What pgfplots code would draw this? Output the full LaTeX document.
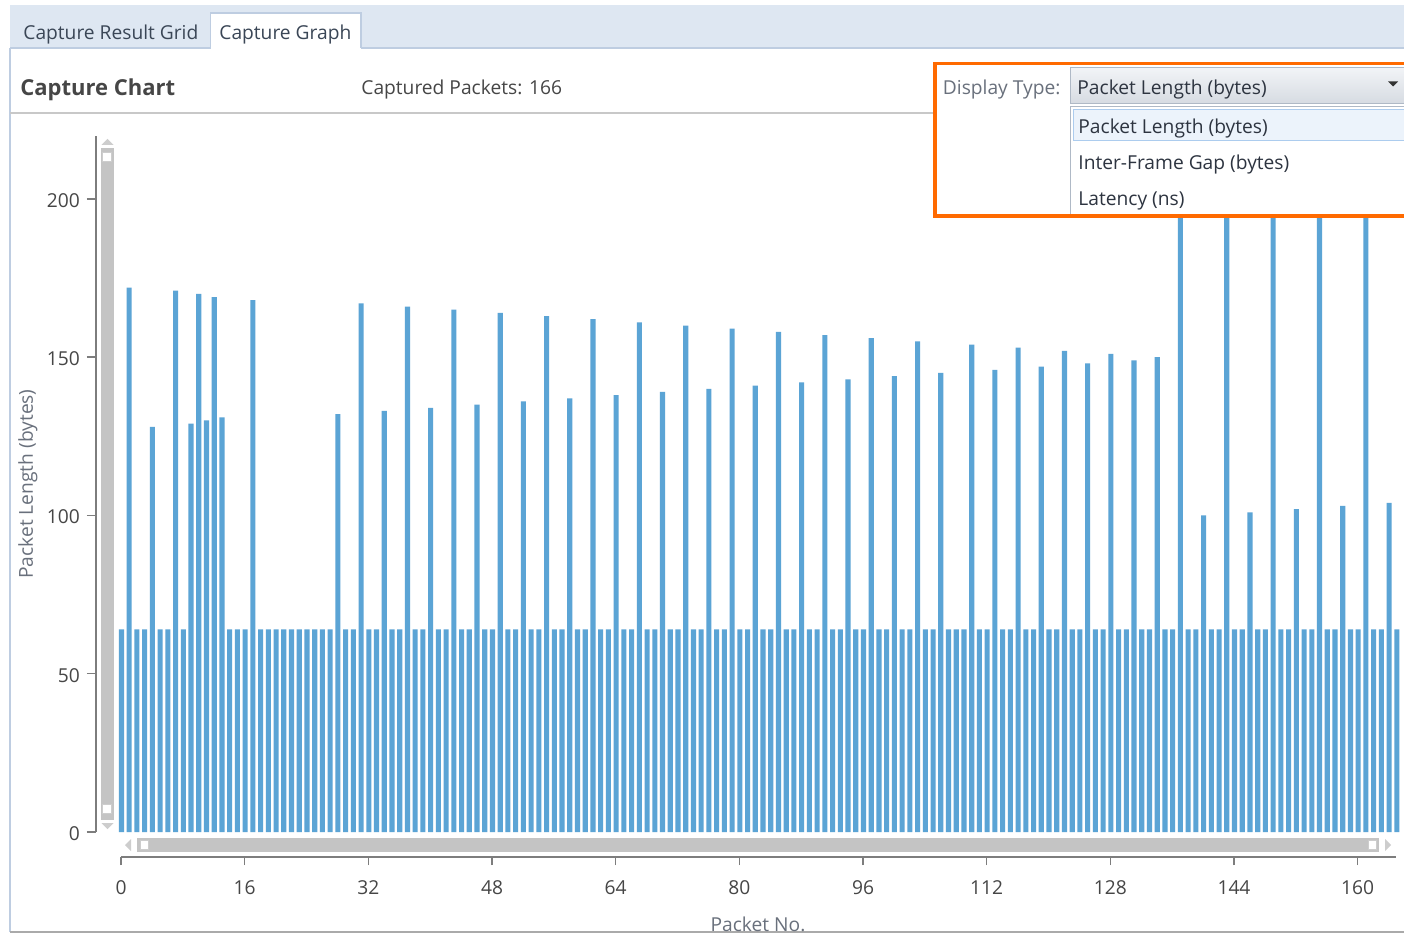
\documentclass[border=0pt]{standalone}
\usepackage{pgfplots}
\pgfplotsset{compat=1.18}
\usepackage{fontspec}
\setmainfont{Open Sans}
\newcommand{\fs}[1]{\fontsize{#1}{#1}\selectfont}
\definecolor{barblue}{RGB}{91,164,213}
\definecolor{tabbg}{RGB}{222,231,242}
\definecolor{panelborder}{RGB}{190,205,225}
\definecolor{tabtxt}{RGB}{58,70,86}
\definecolor{txt}{RGB}{70,70,70}
\definecolor{lbl}{RGB}{105,112,124}
\definecolor{axisgray}{RGB}{125,125,125}
\definecolor{scroll}{RGB}{196,196,196}
\definecolor{scrollarrow}{RGB}{205,205,205}
\definecolor{orangebox}{RGB}{255,106,0}
\definecolor{combotop}{RGB}{242,244,247}
\definecolor{combobot}{RGB}{214,219,226}
\definecolor{comboborder}{RGB}{175,185,198}
\definecolor{hilite}{RGB}{236,243,251}
\definecolor{hiliteb}{RGB}{172,204,238}
\definecolor{listtxt}{RGB}{45,52,64}
\definecolor{sepgray}{RGB}{200,200,200}
\definecolor{bottomgray}{RGB}{170,170,170}
\begin{document}
\begin{tikzpicture}
\useasboundingbox (0,0) rectangle (702pt,467pt);
\fill[white] (0,0) rectangle (702pt,467pt);
\begin{scope}[x=0.5pt,y=-0.5pt,shift={(0pt,467pt)}]
  \fill[tabbg] (10,5) rectangle (1404,48);
  \fill[white] (10,48) rectangle (1404,934);
  \draw[panelborder, line width=0.6pt] (10,48) -- (1404,48);
  \draw[panelborder, line width=0.6pt] (10,48) -- (10,932);
  \fill[white] (210.5,13) rectangle (361,49);
  \draw[panelborder, line width=0.6pt] (210.5,48.5) -- (210.5,13) -- (361,13) -- (361,48.5);
  \node[anchor=west, inner sep=0, text=tabtxt, font=\fs{9.6}] at (23,34.5) {Capture Result Grid};
  \node[anchor=west, inner sep=0, text=tabtxt, font=\fs{9.6}] at (219,34.5) {Capture Graph};
  \node[anchor=west, inner sep=0, text=txt, font=\fs{11}\bfseries] at (20,89.5) {Capture Chart};
  \node[anchor=west, inner sep=0, text=txt, font=\fs{9.6}] at (361,89.5) {Captured Packets: 166};
  \draw[sepgray, line width=0.6pt] (10,113) -- (935,113);
  \draw[bottomgray, line width=1pt] (10,932) -- (1404,932);
  % vertical scrollbar
  \fill[scroll] (101,148) rectangle (114,820);
  \filldraw[fill=white, draw=scrollarrow, line width=0.5pt] (102.5,153) rectangle (111.5,162);
  \filldraw[fill=white, draw=scrollarrow, line width=0.5pt] (102.5,804) rectangle (111.5,813);
  \fill[scrollarrow] (101.5,145) -- (113.5,145) -- (107.5,139) -- cycle;
  \fill[scrollarrow] (101.5,823) -- (113.5,823) -- (107.5,829) -- cycle;
  % horizontal scrollbar
  \fill[scroll] (137,838) rectangle (1379,852);
  \filldraw[fill=white, draw=scrollarrow, line width=0.5pt] (140,840.5) rectangle (148,849.5);
  \filldraw[fill=white, draw=scrollarrow, line width=0.5pt] (1368,840.5) rectangle (1376,849.5);
  \fill[scrollarrow] (131,839) -- (131,851) -- (125,845) -- cycle;
  \fill[scrollarrow] (1385,839) -- (1385,851) -- (1391,845) -- cycle;
  % axis labels
  \node[rotate=90, inner sep=0, text=lbl, font=\fs{9.6}] at (28,484) {Packet Length (bytes)};
  \node[inner sep=0, text=lbl, font=\fs{9.6}] at (758,924) {Packet No.};
\end{scope}
% data axis
\begin{axis}[
  at={(58.8pt,51pt)}, anchor=south west,
  scale only axis, width=641.55pt, height=346pt,
  xmin=-0.5, xmax=165.5, ymin=0, ymax=218.6,
  hide axis, ybar, bar width=0.66,
]
\addplot[fill=barblue, draw=none] coordinates {
(0,64)(1,172)(2,64)(3,64)(4,128)(5,64)(6,64)(7,171)(8,64)(9,129)
(10,170)(11,130)(12,169)(13,131)(14,64)(15,64)(16,64)(17,168)(18,64)(19,64)
(20,64)(21,64)(22,64)(23,64)(24,64)(25,64)(26,64)(27,64)(28,132)(29,64)
(30,64)(31,167)(32,64)(33,64)(34,133)(35,64)(36,64)(37,166)(38,64)(39,64)
(40,134)(41,64)(42,64)(43,165)(44,64)(45,64)(46,135)(47,64)(48,64)(49,164)
(50,64)(51,64)(52,136)(53,64)(54,64)(55,163)(56,64)(57,64)(58,137)(59,64)
(60,64)(61,162)(62,64)(63,64)(64,138)(65,64)(66,64)(67,161)(68,64)(69,64)
(70,139)(71,64)(72,64)(73,160)(74,64)(75,64)(76,140)(77,64)(78,64)(79,159)
(80,64)(81,64)(82,141)(83,64)(84,64)(85,158)(86,64)(87,64)(88,142)(89,64)
(90,64)(91,157)(92,64)(93,64)(94,143)(95,64)(96,64)(97,156)(98,64)(99,64)
(100,144)(101,64)(102,64)(103,155)(104,64)(105,64)(106,145)(107,64)(108,64)(109,64)
(110,154)(111,64)(112,64)(113,146)(114,64)(115,64)(116,153)(117,64)(118,64)(119,147)
(120,64)(121,64)(122,152)(123,64)(124,64)(125,148)(126,64)(127,64)(128,151)(129,64)
(130,64)(131,149)(132,64)(133,64)(134,150)(135,64)(136,64)(137,250)(138,64)(139,64)
(140,100)(141,64)(142,64)(143,250)(144,64)(145,64)(146,101)(147,64)(148,64)(149,250)
(150,64)(151,64)(152,102)(153,64)(154,64)(155,250)(156,64)(157,64)(158,103)(159,64)
(160,64)(161,250)(162,64)(163,64)(164,104)(165,64)
};
\end{axis}
% x axis
\begin{axis}[
  at={(60.5pt,38.5pt)}, anchor=south west,
  scale only axis, width=637.65pt, height=10pt,
  xmin=0, xmax=165, ymin=0, ymax=1,
  axis x line=bottom, axis y line=none,
  axis line style={axisgray,-,line width=0.7pt},
  xtick={0,16,...,160}, ytick=\empty,
  tick align=outside, major tick length=4pt,
  tick style={axisgray,line width=0.7pt},
  /pgf/number format/assume math mode=true,
  xticklabel style={font=\fs{9.6}, text=txt, yshift=-4.5pt},
]
\addplot[draw=none] coordinates {(0,0)};
\end{axis}
% y axis
\begin{axis}[
  at={(48pt,51pt)}, anchor=south west,
  scale only axis, width=10pt, height=348.2pt,
  xmin=0, xmax=1, ymin=0, ymax=220,
  axis y line=left, axis x line=none,
  axis line style={axisgray,-,line width=0.7pt},
  ytick={0,50,...,200}, xtick=\empty,
  tick align=outside, major tick length=4.5pt,
  tick style={axisgray,line width=0.7pt},
  /pgf/number format/assume math mode=true,
  yticklabel style={font=\fs{9.6}, text=txt, yshift=-0.8pt},
]
\addplot[draw=none] coordinates {(0,0)};
\end{axis}
% dropdown overlay
\begin{scope}[x=0.5pt,y=-0.5pt,shift={(0pt,467pt)}]
  \fill[white] (935,63.5) rectangle (1404,216);
  \shade[top color=combotop, bottom color=combobot] (1070,67.5) rectangle (1404,103.5);
  \draw[comboborder, line width=0.5pt] (1404,67.5) -- (1070,67.5) -- (1070,103.5) -- (1404,103.5);
  \fill[black!80] (1388,81.5) -- (1398,81.5) -- (1393,86.5) -- cycle;
  \draw[comboborder, line width=0.5pt] (1404,107) -- (1070,107) -- (1070,216);
  \filldraw[fill=hilite, draw=hiliteb, line width=0.5pt] (1404,109.5) -- (1073.5,109.5) -- (1073.5,141) -- (1404,141);
  \node[anchor=west, inner sep=0, text=lbl, font=\fs{9.6}] at (942.5,90) {Display Type:};
  \node[anchor=west, inner sep=0, text=listtxt, font=\fs{9.6}] at (1077,90) {Packet Length (bytes)};
  \node[anchor=west, inner sep=0, text=listtxt, font=\fs{9.6}] at (1078,129) {Packet Length (bytes)};
  \node[anchor=west, inner sep=0, text=listtxt, font=\fs{9.6}] at (1078,165) {Inter-Frame Gap (bytes)};
  \node[anchor=west, inner sep=0, text=listtxt, font=\fs{9.6}] at (1078,201) {Latency (ns)};
  \draw[orangebox, line width=1.65pt] (1410,63.5) -- (935,63.5) -- (935,216) -- (1410,216);
\end{scope}
\end{tikzpicture}
\end{document}
